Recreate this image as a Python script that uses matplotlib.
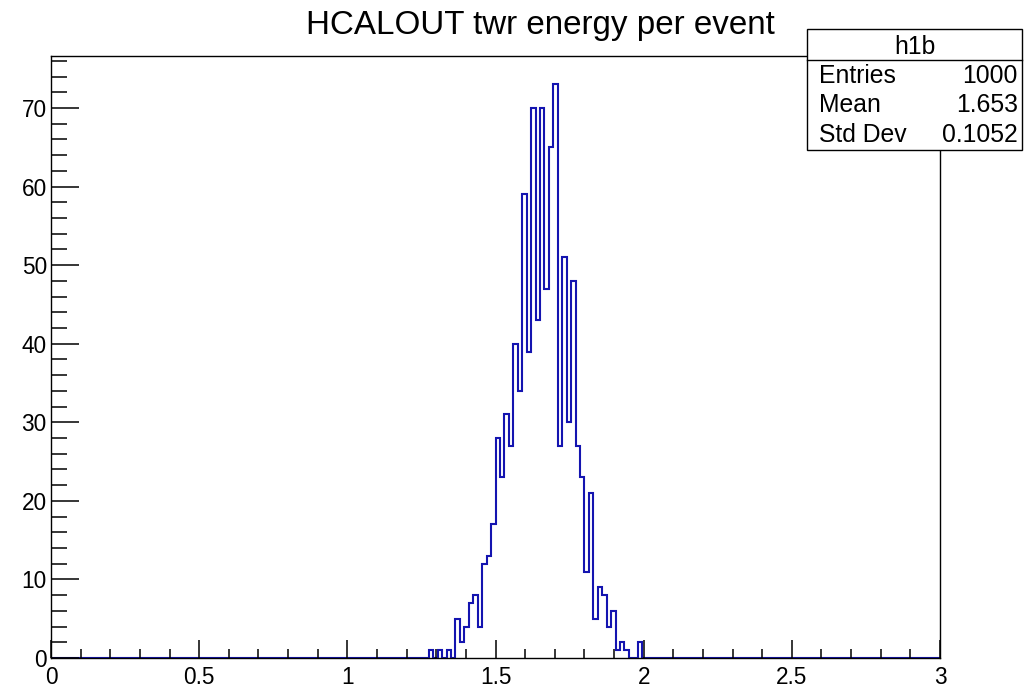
import numpy as np
import matplotlib.pyplot as plt
from matplotlib.patches import Rectangle
from matplotlib.lines import Line2D

plt.rcParams['font.family'] = ['Liberation Sans', 'DejaVu Sans']

# histograma h1b: 200 bins entre 0 y 3
nbins = 200
xmin, xmax = 0.0, 3.0
first_bin = 85
counts_nonzero = [1, 0, 1, 0, 1, 0, 5, 2, 4, 7, 8, 4, 12, 13, 17, 28, 23, 31,
                  27, 40, 34, 59, 39, 70, 43, 70, 47, 65, 73, 27, 51, 30, 48,
                  27, 23, 11, 21, 5, 9, 8, 4, 6, 1, 2, 1, 0, 0, 2]

title = 'HCALOUT twr energy per event'
stats_name = 'h1b'
stats_labels = ['Entries', 'Mean', 'Std Dev']
stats_values = ['1000', '1.653', '0.1052']

counts = np.zeros(nbins)
counts[first_bin:first_bin + len(counts_nonzero)] = counts_nonzero
edges = np.linspace(xmin, xmax, nbins + 1)

W, H = 1028, 689
fig = plt.figure(figsize=(W / 100, H / 100), dpi=100)
ax = fig.add_axes([51 / W, 1 - 658 / H, (940 - 51) / W, (658 - 55.7) / H])

ax.stairs(counts, edges, color='#1414b0', linewidth=1.5)

ax.set_xlim(xmin, xmax)
ax.set_ylim(0, 1.05 * counts.max())
ax.set_xticks(np.arange(0, 3.01, 0.5))
ax.set_xticks(np.arange(0, 3.01, 0.1), minor=True)
ax.set_xticklabels(['0', '0.5', '1', '1.5', '2', '2.5', '3'])
ax.set_yticks(np.arange(0, 71, 10))
ax.set_yticks(np.arange(0, 77, 2), minor=True)
ax.tick_params(axis='both', which='both', direction='in', labelsize=16.3,
               top=False, right=False, width=1.1, color='black')
ax.tick_params(axis='x', which='major', length=13, pad=6)
ax.tick_params(axis='x', which='minor', length=6.5)
ax.tick_params(axis='y', which='major', length=20, pad=3)
ax.tick_params(axis='y', which='minor', length=11.3)
for s in ax.spines.values():
    s.set_linewidth(1.0)

fig.text(540 / W, 1 - 34 / H, title, ha='center', va='baseline', fontsize=23.9)

# caja de estadisticas
bx0, bx1, by0, by1, bsep = 807, 1022, 29, 150, 60
fig.add_artist(Rectangle((bx0 / W, 1 - by1 / H), (bx1 - bx0) / W, (by1 - by0) / H,
                         transform=fig.transFigure, facecolor='white',
                         edgecolor='black', linewidth=1.0, zorder=5))
fig.add_artist(Line2D([bx0 / W, bx1 / W], [1 - bsep / H, 1 - bsep / H],
                      transform=fig.transFigure, color='black', linewidth=1.0, zorder=6))
fig.text((bx0 + bx1) / 2 / W, 1 - 54 / H, stats_name, ha='center', va='baseline',
         fontsize=17.8, zorder=7)
for i, (lab, val) in enumerate(zip(stats_labels, stats_values)):
    yb = 1 - (83 + 29.5 * i) / H
    fig.text(819 / W, yb, lab, ha='left', va='baseline', fontsize=17.8, zorder=7)
    fig.text(1018 / W, yb, val, ha='right', va='baseline', fontsize=17.8, zorder=7)

fig.savefig('out.png', dpi=100)
